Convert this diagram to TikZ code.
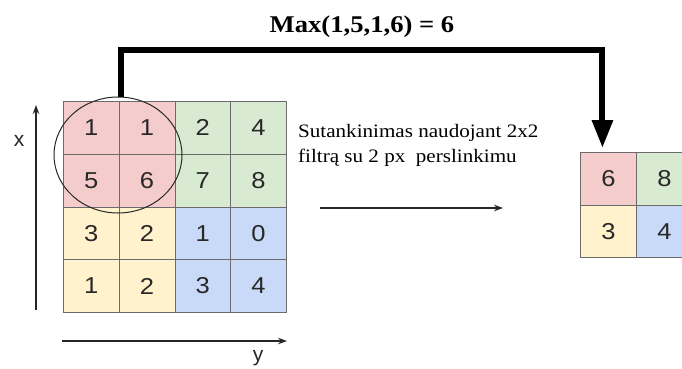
\documentclass[tikz,border=0pt]{standalone}
\usepackage{fontspec}
\setmainfont{Liberation Serif}
\newfontfamily\cellfont{Liberation Sans}
\usetikzlibrary{positioning, calc, shapes.geometric, arrows.meta}

\definecolor{q0}{HTML}{F4CCCC}
\definecolor{q1}{HTML}{D9EAD3}
\definecolor{q2}{HTML}{FFF2CC}
\definecolor{q3}{HTML}{C9DAF8}
\definecolor{gridgray}{HTML}{6B6B6B}
\definecolor{numgray}{HTML}{282828}

\newcommand{\wide}[1]{\scalebox{1.11}[1]{#1}}

\tikzset{
  cell/.style={draw=gridgray, line width=0.9pt, anchor=north west, inner sep=0pt,
    minimum width=55.75pt, minimum height=52.75pt, text=numgray,
    font=\cellfont\fontsize{23}{25}\selectfont},
  axis/.style={line width=1.3pt, draw=black!85, -{Stealth[length=9pt,width=6.5pt]}},
  axislabel/.style={text=black!85, font=\cellfont\fontsize{21}{24}\selectfont}
}

\begin{document}
\begin{tikzpicture}[x=1pt,y=-1pt]
  \clip (0,0) rectangle (682,369);
  \fill[white] (0,0) rectangle (682,369);
  \foreach \row [count=\r from 0] in {{1,1,2,4},{5,6,7,8},{3,2,1,0},{1,2,3,4}} {
    \foreach \v [count=\c from 0] in \row {
      \pgfmathtruncatemacro\q{2*int(\r/2)+int(\c/2)}
      \node[cell, fill=q\q] (a\r\c) at ({63+55.75*\c},{101+52.75*\r}) {\wide{\v}};
    }
  }
  \foreach \row [count=\r from 0] in {{6,8},{3,4}} {
    \foreach \v [count=\c from 0] in \row {
      \pgfmathtruncatemacro\q{2*\r+\c}
      \node[cell, fill=q\q, minimum width=56pt, minimum height=52.5pt] (b\r\c) at ({580+56*\c},{152+52.5*\r}) {\wide{\v}};
    }
  }
  \node[draw=black!85, line width=1pt, ellipse, minimum width=128pt, minimum height=116pt] (pool) at (118,155) {};
  \coordinate (xs) at (36,310);
  \coordinate (xe) at (36,105);
  \coordinate (ys) at (62,341);
  \coordinate (ye) at (287,341);
  \coordinate (ms) at (320,208);
  \coordinate (me) at (503,208);
  \draw[axis] (xs) -- (xe);
  \draw[axis] (ys) -- (ye);
  \draw[axis, line width=1.2pt] (ms) -- (me);
  \node[axislabel] (xl) at (19,141) {x};
  \node[axislabel, anchor=base] (yl) at (258,361) {y};
  \draw[line width=6pt, -{Triangle[width=20pt,length=28pt]}]
    ([xshift=3pt]pool.north) -- ++(0,-46) -| ([xshift=-6pt,yshift=4pt]b00.north);
  \node[font=\bfseries\fontsize{24}{28}\selectfont, anchor=base] (title) at (362,33) {\wide{Max(1,5,1,6) = 6}};
  \node[align=left, anchor=base west, inner sep=0pt, font=\fontsize{19}{25}\selectfont] (caption) at (298,162)
    {\wide{Sutankinimas naudojant 2x2}\\\wide{filtrą su 2 px\ \ perslinkimu}};
\end{tikzpicture}
\end{document}
